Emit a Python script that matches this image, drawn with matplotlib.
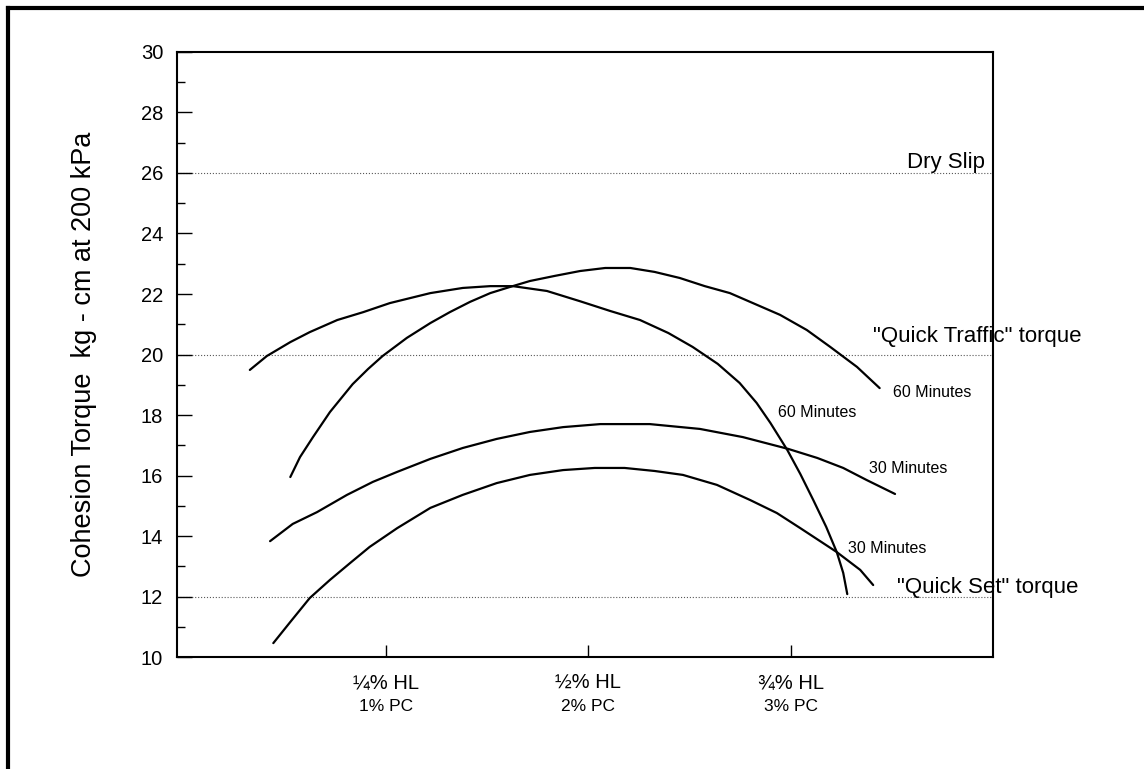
import matplotlib.pyplot as plt
from matplotlib.lines import Line2D
from matplotlib.ticker import MultipleLocator

plt.rcParams['font.family'] = ['Liberation Sans', 'DejaVu Sans']

# x = % HL (1/4, 1/2, 3/4 ticks), y = cohesion torque
quick60_x = [0.082, 0.103, 0.132, 0.156, 0.190, 0.222, 0.255, 0.305, 0.345,
             0.379, 0.407, 0.449, 0.490, 0.527, 0.564, 0.599, 0.629, 0.660,
             0.687, 0.708, 0.725, 0.746, 0.762, 0.778, 0.794, 0.807, 0.815,
             0.820]
quick60_y = [19.49, 19.95, 20.41, 20.74, 21.14, 21.40, 21.70, 22.03, 22.20,
             22.26, 22.26, 22.10, 21.76, 21.44, 21.14, 20.71, 20.25, 19.69,
             19.06, 18.40, 17.74, 16.84, 16.05, 15.19, 14.30, 13.47, 12.78,
             12.08]

slow60_x = [0.132, 0.144, 0.160, 0.181, 0.209, 0.228, 0.246, 0.276, 0.305,
            0.329, 0.354, 0.379, 0.403, 0.428, 0.459, 0.490, 0.521, 0.552,
            0.582, 0.613, 0.644, 0.675, 0.706, 0.737, 0.770, 0.799, 0.832,
            0.860]
slow60_y = [15.95, 16.61, 17.27, 18.10, 19.02, 19.52, 19.95, 20.55, 21.04,
            21.40, 21.74, 22.03, 22.23, 22.43, 22.60, 22.76, 22.86, 22.86,
            22.73, 22.53, 22.26, 22.03, 21.67, 21.31, 20.81, 20.25, 19.59,
            18.89]

upper30_x = [0.107, 0.135, 0.165, 0.202, 0.234, 0.264, 0.305, 0.345, 0.387,
             0.428, 0.469, 0.515, 0.576, 0.638, 0.691, 0.747, 0.783, 0.815,
             0.844, 0.879]
upper30_y = [13.83, 14.40, 14.79, 15.36, 15.79, 16.12, 16.55, 16.91, 17.21,
             17.44, 17.60, 17.70, 17.70, 17.54, 17.27, 16.88, 16.58, 16.25,
             15.85, 15.39]

lower30_x = [0.111, 0.132, 0.156, 0.181, 0.206, 0.230, 0.264, 0.305, 0.345,
             0.387, 0.428, 0.469, 0.508, 0.545, 0.582, 0.617, 0.659, 0.700,
             0.733, 0.762, 0.807, 0.836, 0.852]
lower30_y = [10.46, 11.16, 11.95, 12.55, 13.11, 13.64, 14.26, 14.93, 15.36,
             15.75, 16.02, 16.18, 16.25, 16.25, 16.15, 16.02, 15.69, 15.19,
             14.76, 14.26, 13.47, 12.88, 12.38]

ref_levels = [12, 20, 26]
tick_pos = [0.25, 0.5, 0.75]
hl_labels = ['\u00bc% HL', '\u00bd% HL', '\u00be% HL']
pc_labels = ['1% PC', '2% PC', '3% PC']

fig = plt.figure(figsize=(11.44, 7.69), dpi=100)
ax = fig.add_axes([0.1547, 0.1456, 0.7133, 0.7868])

for lvl in ref_levels:
    ax.axhline(lvl, color='0.35', linestyle=':', linewidth=0.8, zorder=1)

for xs, ys in [(quick60_x, quick60_y), (slow60_x, slow60_y),
               (upper30_x, upper30_y), (lower30_x, lower30_y)]:
    ax.plot(xs, ys, color='black', linewidth=1.6, solid_capstyle='round',
            solid_joinstyle='round', zorder=3)

ax.set_xlim(-0.008, 1.0)
ax.set_ylim(10, 30)
ax.yaxis.set_major_locator(MultipleLocator(2))
ax.yaxis.set_minor_locator(MultipleLocator(1))
ax.tick_params(axis='y', which='major', direction='in', length=11, width=1,
               labelsize=14.5, pad=10)
ax.tick_params(axis='y', which='minor', direction='in', length=6, width=1)
ax.set_xticks(tick_pos)
ax.set_xticklabels([])
ax.tick_params(axis='x', direction='in', length=9, width=1)

for s in ax.spines.values():
    s.set_linewidth(1.5)

trans = ax.get_xaxis_transform()
for x, hl, pc in zip(tick_pos, hl_labels, pc_labels):
    ax.text(x, -0.042, hl, transform=trans, ha='center', va='center', fontsize=14.5)
    ax.text(x, -0.081, pc, transform=trans, ha='center', va='center', fontsize=12.5)

ax.set_ylabel('Cohesion Torque  kg - cm at 200 kPa', fontsize=19.5)
ax.yaxis.set_label_coords(-0.114, 0.5)
ax.yaxis.label.set_verticalalignment('center')

# reference level labels
ax.text(0.990, 26.17, 'Dry Slip', ha='right', va='baseline', fontsize=16)
ax.text(0.852, 20.41, '"Quick Traffic" torque', ha='left', va='baseline', fontsize=16)
ax.text(0.881, 12.12, '"Quick Set" torque', ha='left', va='baseline', fontsize=16)

# curve labels
ax.text(0.876, 18.60, '60 Minutes', ha='left', va='baseline', fontsize=11.5)
ax.text(0.734, 17.93, '60 Minutes', ha='left', va='baseline', fontsize=11.5)
ax.text(0.847, 16.08, '30 Minutes', ha='left', va='baseline', fontsize=11.5)
ax.text(0.821, 13.44, '30 Minutes', ha='left', va='baseline', fontsize=11.5)

# scanned page frame (top and left edges)
fig.add_artist(Line2D([0.0074, 1.0], [0.9896, 0.9896], color='black', linewidth=3,
                      transform=fig.transFigure))
fig.add_artist(Line2D([0.0074, 0.0074], [0.0, 0.9896], color='black', linewidth=3,
                      transform=fig.transFigure))

fig.savefig('out.png', dpi=100)
